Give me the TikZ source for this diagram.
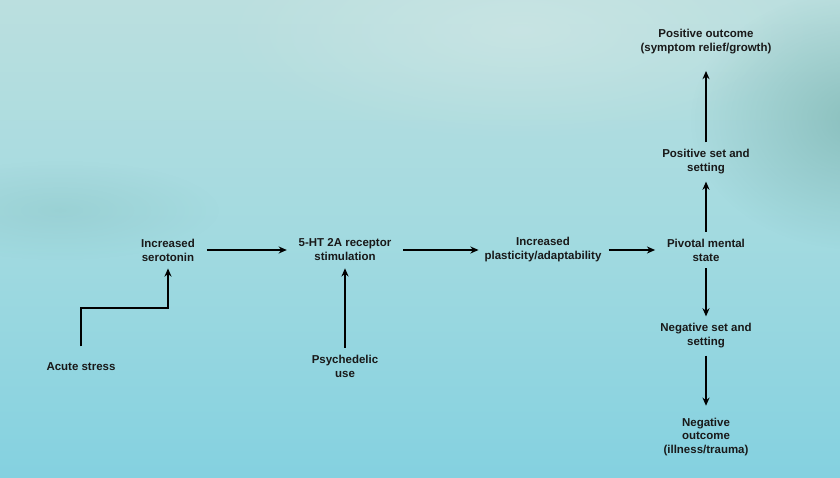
\documentclass[tikz,border=0pt]{standalone}
\usepackage{fontspec}
\setmainfont{Liberation Sans}
\usetikzlibrary{fadings,arrows.meta}
\definecolor{skytop}{HTML}{BBDFDF}
\definecolor{lakemid}{HTML}{A2DAE0}
\definecolor{lakebottom}{HTML}{84D1E0}
\definecolor{treeshade}{HTML}{5E9C94}
\definecolor{mistlight}{HTML}{D2E8E6}
\tikzfading[name=softglow, inner color=transparent!0, outer color=transparent!100]

\begin{document}
\begin{tikzpicture}[
    x=0.03cm, y=-0.03cm,
    stage/.style={align=center, font=\fontsize{9.8}{11.9}\selectfont\bfseries, text=black!90, inner xsep=10pt, inner ysep=6pt},
    flow/.style={line width=1.1pt, ->, >={Stealth[length=7pt, width=6pt]}, black}
]

% ==================== BACKGROUND ====================
\useasboundingbox (0,0) rectangle (840,478);
\begin{scope}
\clip (0,0) rectangle (840,478);
\shade[top color=skytop, bottom color=lakebottom, middle color=lakemid] (0,0) rectangle (840,478);
\fill[mistlight, opacity=0.6, path fading=softglow] (520,30) ellipse (300 and 110);
\fill[treeshade, opacity=0.45, path fading=softglow] (860,120) ellipse (170 and 130);
\fill[treeshade, opacity=0.15, path fading=softglow] (60,210) ellipse (160 and 50);
\end{scope}

% ==================== MAIN CHAIN ====================
\node[stage] (serotonin) at (168,250) {Increased\\serotonin};
\node[stage] (receptor) at (345,250) {5-HT 2A receptor\\stimulation};
\node[stage] (plasticity) at (543,250) {Increased\\plasticity/adaptability};
\node[stage] (pivotal) at (706,250) {Pivotal mental\\state};

% ==================== INPUTS ====================
\node[stage] (stress) at (81,367) {Acute stress};
\node[stage] (psychedelic) at (345,366) {Psychedelic\\use};
\coordinate (elbow) at (168,308);

% ==================== OUTCOMES ====================
\node[stage] (posset) at (706,162) {Positive set and\\setting};
\node[stage] (posout) at (706,42) {Positive outcome\\(symptom relief/growth)};
\node[stage] (negset) at (706,336) {Negative set and\\setting};
\node[stage] (negout) at (706,437) {Negative\\outcome\\(illness/trauma)};

% ==================== ARROWS ====================
\draw[flow] (serotonin) -- (receptor);
\draw[flow, shorten >=-5pt] (receptor) -- (plasticity);
\draw[flow, shorten <=-4pt] (plasticity) -- (pivotal);
\draw[flow, shorten <=8pt] (stress.north) |- (elbow) -- (serotonin.south);
\draw[flow] (psychedelic) -- (receptor);
\draw[flow] (pivotal) -- (posset);
\draw[flow, shorten >=8pt] (posset) -- (posout);
\draw[flow] (pivotal) -- (negset);
\draw[flow, shorten >=4pt] (negset) -- (negout);

\end{tikzpicture}
\end{document}
